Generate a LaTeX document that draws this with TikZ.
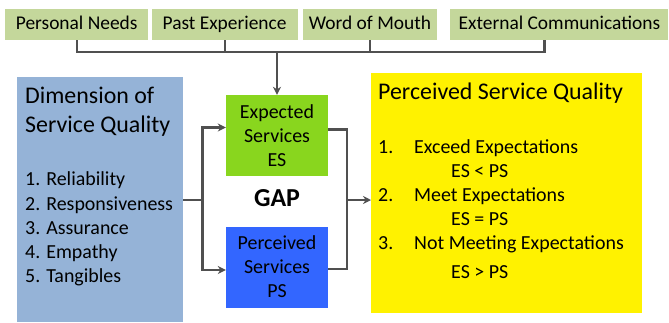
\documentclass[tikz,border=0pt]{standalone}
\usepackage{fontspec}
\setmainfont{Carlito}
\usepackage{tikz}
\usetikzlibrary{positioning}
\usetikzlibrary{arrows.meta}
\definecolor{topgreen}{RGB}{196,215,155}
\definecolor{dimblue}{RGB}{149,179,215}
\definecolor{esgreen}{RGB}{137,214,30}
\definecolor{psblue}{RGB}{51,102,255}
\definecolor{linkgray}{RGB}{80,80,80}
\tikzset{top node/.style={fill=topgreen,minimum height=31bp,inner sep=0pt,text height=13bp,text depth=4bp,font=\fontsize{19.5}{23}\selectfont},
  svc node/.style={minimum width=102bp,minimum height=81bp,inner sep=0pt,align=center,font=\fontsize{20}{24}\selectfont},
  link/.style={draw=linkgray,line width=2.2bp},
  txt/.style={anchor=base west,inner sep=0pt,font=\fontsize{20}{24}\selectfont},
  big txt/.style={anchor=base west,inner sep=0pt,font=\fontsize{24}{29}\selectfont}}

\begin{document}
\begin{tikzpicture}[x=1bp,y=-1bp,>={Stealth[length=8bp,width=8bp]}]
    \useasboundingbox (0,0) rectangle (669,322);

    % influences on expectations
    \node[top node,minimum width=143bp,anchor=north west] (pn) at (5,9) {Personal Needs};
    \node[top node,minimum width=146bp,right=3bp of pn] (pe) {Past Experience};
    \node[top node,minimum width=134bp,right=5bp of pe] (wm) {Word of Mouth};
    \node[top node,minimum width=218bp,right=13bp of wm] (ec) {External Communications};

    % dimensions
    \node[fill=dimblue,minimum width=166bp,minimum height=245bp,anchor=north west] (dim) at (17,77) {};
    \node[big txt] (dimA) at (25,103.7) {Dimension of};
    \node[big txt] (dimB) at (25,132.7) {Service Quality};
    \node[txt] (d1) at (25,185.4) {1. Reliability};
    \node[txt] (d2) at (25,210.4) {2. Responsiveness};
    \node[txt] (d3) at (25,234.4) {3. Assurance};
    \node[txt] (d4) at (25,258.4) {4. Empathy};
    \node[txt] (d5) at (25,282.4) {5. Tangibles};

    % expected vs perceived
    \node[svc node,fill=esgreen] (es) at (277,135.5) {Expected\\Services\\ES};
    \node[svc node,fill=psblue] (ps) at (277,267) {Perceived\\Services\\PS};
    \node[inner sep=0pt,font=\bfseries\fontsize{26}{30}\selectfont] (gap) at (277,198) {GAP};

    % result
    \node[fill=yellow,minimum width=271bp,minimum height=240bp,anchor=north west] (pq) at (371,73) {};
    \node[big txt] (pqA) at (378,99.7) {Perceived Service Quality};
    \node[txt] (n1) at (378,153.4) {1.};
    \node[txt] (r1) at (414,153.4) {Exceed Expectations};
    \node[txt] (c1) at (451,177.4) {ES < PS};
    \node[txt] (n2) at (378,201.4) {2.};
    \node[txt] (r2) at (414,201.4) {Meet Expectations};
    \node[txt] (c2) at (451,225.4) {ES = PS};
    \node[txt] (n3) at (378,249.4) {3.};
    \node[txt] (r3) at (414,249.4) {Not Meeting Expectations};
    \node[txt] (c3) at (451,278.4) {ES > PS};

    % connectors
    \coordinate (bus) at (277,52);
    \draw[link] (pn.south) |- (bus);
    \draw[link] ([xshift=-15bp]ec.south) |- (bus);
    \draw[link] (pe.south) -- (pe.south |- bus);
    \draw[link] (wm.south) -- (wm.south |- bus);
    \draw[link,->] (bus) -- (es);

    \coordinate (split) at ([xshift=19bp]dim.east);
    \draw[link] (dim.east) -- (split);
    \draw[link,->] (split) |- ([yshift=8bp]es.west);
    \draw[link,->] (split) |- ([yshift=-3bp]ps.west);

    \coordinate (join) at (347,200);
    \draw[link] ([yshift=6bp]es.east) -| (join);
    \draw[link] ([yshift=-2bp]ps.east) -| (join);
    \draw[link,->] (join) -- (join -| pq.west);
\end{tikzpicture}
\end{document}
